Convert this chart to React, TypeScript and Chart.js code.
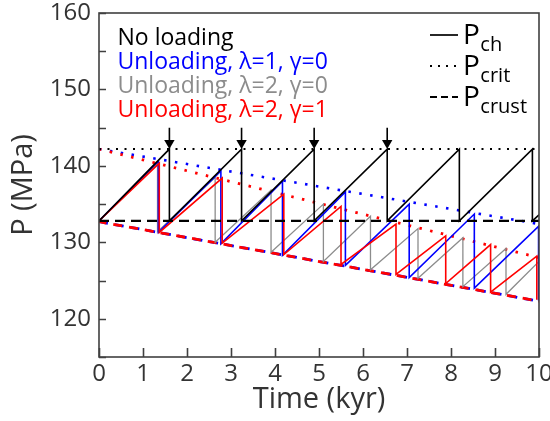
import React, { useEffect, useRef } from 'react';
import { Chart, registerables } from 'chart.js';

Chart.register(...registerables);

// ---- axis ticks ----
const timeTicks = [0, 1, 2, 3, 4, 5, 6, 7, 8, 9, 10];
const pressureLabelTicks = [120, 130, 140, 150, 160];

// ---- P_ch sawtooth series (time in kyr, pressure in MPa) ----
const noLoadingTime = [0, 1.6, 1.6, 3.24, 3.24, 4.89, 4.89, 6.55, 6.55, 8.19, 8.19, 9.85, 9.85, 10];
const noLoadingP = [132.8, 142.2, 132.8, 142.2, 132.8, 142.2, 132.8, 142.2, 132.8, 142.2, 132.8, 142.2, 132.8, 133.6];

const unloadL1G0Time = [0, 1.35, 1.35, 2.77, 2.77, 4.17, 4.17, 5.6, 5.6, 7.05, 7.05, 8.53, 8.53, 9.99, 9.99];
const unloadL1G0P = [132.8, 140.6, 131.3, 139.35, 129.8, 138.0, 128.3, 136.6, 127.0, 135.0, 125.4, 133.7, 124.0, 132.1, 122.4];

const unloadL2G0Time = [0, 1.33, 1.33, 2.64, 2.64, 3.91, 3.91, 5.1, 5.1, 6.17, 6.17, 7.25, 7.25, 8.27, 8.27, 9.25, 9.25, 10];
const unloadL2G0P = [132.8, 140.3, 131.4, 138.5, 130.0, 136.8, 128.7, 135.0, 127.5, 133.4, 126.4, 131.8, 125.3, 130.6, 124.2, 129.2, 123.2, 127.5];

const unloadL2G1Time = [0, 1.37, 1.37, 2.8, 2.8, 4.2, 4.2, 5.5, 5.5, 6.75, 6.75, 7.88, 7.88, 8.9, 8.9, 9.95, 9.95];
const unloadL2G1P = [132.8, 140.35, 131.3, 138.4, 129.9, 136.3, 128.4, 134.7, 127.1, 132.4, 125.8, 130.85, 124.6, 129.7, 123.5, 128.2, 122.5];

// ---- P_crit (dotted) and P_crust (dashed) ----
const limitTime = [0, 10];
const critNoLoading = [142.2, 142.2];
const critLambda1 = [142.2, 132.4];
const critLambda2 = [142.2, 128.0];
const crustNoLoading = [132.8, 132.8];
const crustUnloading = [132.7, 122.3];

// ---- failure arrows ----
const arrowTimes = [1.6, 3.24, 4.89, 6.55];
const arrowTopP = 145.0;
const arrowHeadP = 143.0;

// ---- legend ----
const seriesNames = ['No loading', 'Unloading, λ=1, γ=0', 'Unloading, λ=2, γ=0', 'Unloading, λ=2, γ=1'];
const seriesColors = ['#000000', '#0000ff', '#8c8c8c', '#ff0000'];
const styleSubscripts = ['ch', 'crit', 'crust'];

const FONT = '"Open Sans", "Noto Sans", sans-serif';

function toXY(ts: number[], ps: number[]) {
  return ts.map((t, i) => ({ x: t, y: ps[i] }));
}

function arrowData() {
  const out: { x: number; y: number | null }[] = [];
  arrowTimes.forEach((t) => {
    out.push({ x: t, y: arrowTopP });
    out.push({ x: t, y: arrowHeadP });
    out.push({ x: t, y: null });
  });
  return out;
}

const decorPlugin = {
  id: 'decor',
  afterDraw(chart: any) {
    const { ctx, chartArea: a, scales } = chart;
    const xs = scales.x;
    const ys = scales.y;
    ctx.save();
    ctx.strokeStyle = '#404040';
    ctx.lineWidth = 1.6;
    ctx.setLineDash([]);
    ctx.beginPath();
    xs.ticks.forEach((t: any) => {
      const px = Math.round(xs.getPixelForValue(t.value)) + 0.5;
      ctx.moveTo(px, a.bottom);
      ctx.lineTo(px, a.bottom - 9);
    });
    ys.ticks.forEach((t: any) => {
      const py = Math.round(ys.getPixelForValue(t.value)) + 0.5;
      ctx.moveTo(a.left, py);
      ctx.lineTo(a.left + 7, py);
    });
    ctx.stroke();
    ctx.strokeRect(a.left, a.top, a.right - a.left, a.bottom - a.top);

    // left legend (series)
    ctx.font = `23px ${FONT}`;
    ctx.textAlign = 'left';
    ctx.textBaseline = 'alphabetic';
    seriesNames.forEach((name, i) => {
      ctx.fillStyle = seriesColors[i];
      ctx.fillText(name, a.left + 18.5, a.top + 32 + i * 24);
    });

    // right legend (line styles)
    const dashes = [[], [2, 6], [7, 4]];
    const lx0 = a.left + 331;
    styleSubscripts.forEach((sub, i) => {
      const ly = a.top + 22 + i * 31;
      ctx.strokeStyle = '#000000';
      ctx.lineWidth = i === 0 ? 1.7 : 2;
      ctx.setLineDash(dashes[i]);
      ctx.beginPath();
      ctx.moveTo(lx0, ly);
      ctx.lineTo(lx0 + 28, ly);
      ctx.stroke();
      ctx.setLineDash([]);
      ctx.fillStyle = '#000000';
      ctx.font = `28px ${FONT}`;
      const px = lx0 + 33;
      const base = ly + 8.5;
      ctx.fillText('P', px, base);
      const pw = ctx.measureText('P').width;
      ctx.font = `20px ${FONT}`;
      ctx.fillText(sub, px + pw + 0.5, base + 7);
    });
    ctx.restore();
  },
};

export default function App() {
  const canvasRef = useRef<HTMLCanvasElement | null>(null);

  useEffect(() => {
    if (!canvasRef.current) return;
    Chart.defaults.font.family = FONT;
    const line = (data: any, color: string, width: number, order: number, dash: number[] = [], extra: any = {}) => ({
      data,
      borderColor: color,
      backgroundColor: color,
      borderWidth: width,
      borderDash: dash,
      pointRadius: 0,
      tension: 0,
      fill: false,
      order,
      spanGaps: false,
      ...extra,
    });

    const chart = new Chart(canvasRef.current, {
      type: 'line',
      data: {
        datasets: [
          line(arrowData(), '#000000', 1.6, 0, [], {
            pointRadius: (c: any) => (c.dataIndex % 3 === 1 ? 6 : 0),
            pointStyle: 'triangle',
            rotation: 180,
            pointBackgroundColor: '#000000',
            pointBorderWidth: 0,
          }),
          line(toXY(noLoadingTime, noLoadingP), '#000000', 1.6, 1),
          line(toXY(limitTime, critNoLoading), '#000000', 2, 2, [2, 6.5]),
          line(toXY(limitTime, crustNoLoading), '#000000', 2.2, 3, [10, 6]),
          line(toXY(unloadL2G1Time, unloadL2G1P), '#ff0000', 1.6, 4),
          line(toXY(unloadL1G0Time, unloadL1G0P), '#0000ff', 1.6, 5),
          line(toXY(unloadL2G0Time, unloadL2G0P), '#8c8c8c', 1.3, 6),
          line(toXY(limitTime, crustUnloading), '#ff0000', 2.8, 7, [9, 7], { borderDashOffset: 1.5 }),
          line(toXY(limitTime, crustUnloading), '#0000ff', 2.8, 8, [9, 7]),
          line(toXY(limitTime, critLambda2), '#ff0000', 2.8, 9, [2.5, 8.5]),
          line(toXY(limitTime, critLambda1), '#0000ff', 2.6, 10, [2.5, 8.5]),
        ],
      },
      options: {
        animation: false,
        responsive: false,
        devicePixelRatio: 1,
        layout: { padding: { left: 0, top: 13, right: 11, bottom: 0 } },
        plugins: { legend: { display: false }, tooltip: { enabled: false } },
        elements: { line: { borderCapStyle: 'butt' } },
        scales: {
          x: {
            type: 'linear',
            min: 0,
            max: 10,
            grid: { display: false, drawTicks: false },
            border: { display: false },
            afterBuildTicks: (scale: any) => {
              scale.ticks = timeTicks.map((v) => ({ value: v }));
            },
            ticks: {
              autoSkip: false,
              maxRotation: 0,
              padding: 3,
              color: '#333333',
              font: { size: 24, family: FONT },
              callback: (v: any) => String(v),
            },
            title: {
              display: true,
              text: 'Time (kyr)',
              color: '#333333',
              font: { size: 29, family: FONT },
              padding: { top: 0, bottom: 4 },
            },
            afterFit: (scale: any) => {
              scale.height = 64;
              scale.paddingLeft = 0;
              scale.paddingRight = 0;
            },
          },
          y: {
            type: 'linear',
            min: 115,
            max: 160,
            grid: { display: false, drawTicks: false },
            border: { display: false },
            ticks: {
              stepSize: 5,
              autoSkip: false,
              padding: 8,
              color: '#333333',
              font: { size: 24, family: FONT },
              callback: (v: any) => (pressureLabelTicks.includes(Number(v)) ? String(v) : ''),
            },
            title: {
              display: true,
              text: 'P (MPa)',
              color: '#333333',
              font: { size: 29, family: FONT },
              padding: { top: 6, bottom: 0 },
            },
            afterFit: (scale: any) => {
              scale.width = 99;
              scale.paddingTop = 0;
              scale.paddingBottom = 0;
            },
          },
        },
      } as any,
      plugins: [decorPlugin],
    });
    return () => chart.destroy();
  }, []);

  return (
    <div style={{ position: 'absolute', left: 0, top: 0, width: 550, height: 421, background: '#ffffff' }}>
      <canvas ref={canvasRef} width={550} height={421} style={{ display: 'block', width: 550, height: 421 }} />
    </div>
  );
}
